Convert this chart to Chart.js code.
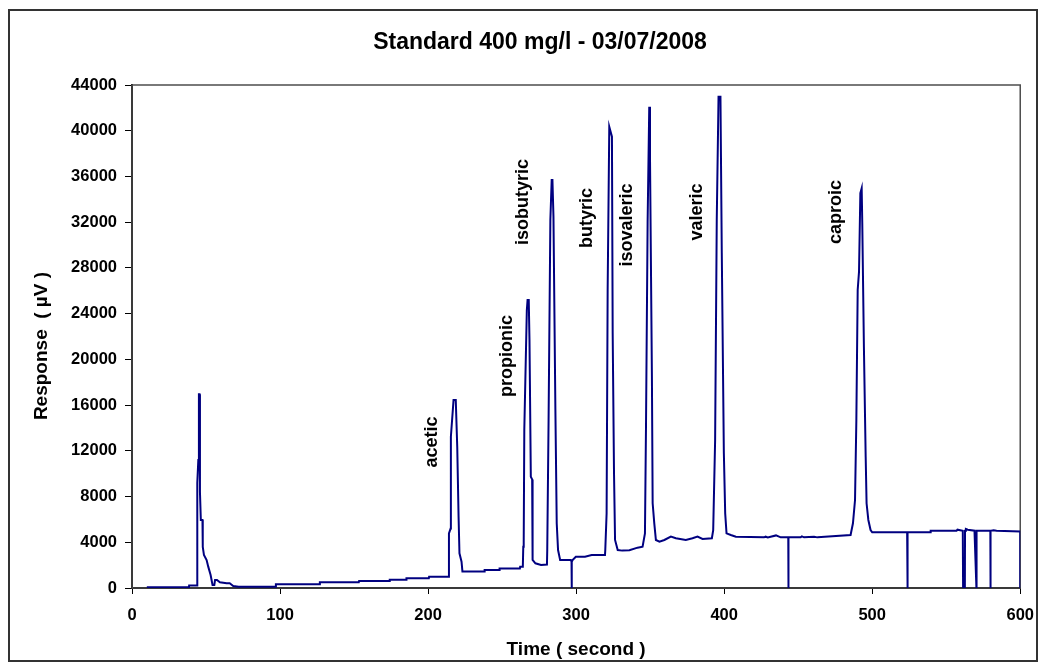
<!DOCTYPE html>
<html>
<head>
<meta charset="utf-8">
<script src="https://cdn.jsdelivr.net/npm/chart.js@4.4.1/dist/chart.umd.min.js"></script>
<style>
  html, body { margin: 0; padding: 0; background: #ffffff; }
  #wrap { width: 1046px; height: 667px; position: relative; }
</style>
</head>
<body>
<div id="wrap"><canvas id="chart" width="1046" height="667"></canvas></div>
<script>
// ---------------- DATA ----------------
const chartTitle = "Standard 400 mg/l - 03/07/2008";
const xAxisTitle = "Time ( second )";
const yAxisTitle = "Response  ( µV )";

const xTickValues = [0, 100, 200, 300, 400, 500, 600];
const yTickValues = [0, 4000, 8000, 12000, 16000, 20000, 24000, 28000, 32000, 36000, 40000, 44000];

// chromatogram trace: time (s) and detector response (µV)
const times = [
  10, 38.5, 38.6, 44.0, 44.1, 44.8, 45.2, 45.6, 45.9, 46.5, 47.6, 47.8, 48.6, 50.4, 51.5, 53.1, 54.4, 55.6, 56.1, 57.4,
  59.4, 63.9, 66, 68.4, 72, 97.0, 97.2, 126.7, 126.9, 153.2, 153.4, 173.9, 174.1, 185.2, 185.4, 200.5, 200.7, 213.9, 214.1, 215.2,
  215.4, 217.2, 218.7, 219.7, 220.6, 221.2, 222.6, 223.2, 238.0, 238.2, 248.1, 248.3, 262.0, 262.2, 264.0, 264.3, 264.6, 265.0, 266.7, 267.2,
  268.0, 268.5, 269.4, 270.3, 270.6, 272.5, 276.3, 280.3, 280.5, 281.4, 282.6, 283.5, 284.0, 284.7, 286.0, 286.9, 287.8, 289.2, 296.4, 296.9,
  297.0, 297.1, 297.6, 299.8, 306.0, 310.5, 319.5, 319.7, 320.6, 321.3, 322.4, 324.2, 324.7, 325.6, 326.3, 328.1, 331.2, 336.0, 341.5, 344.9,
  346.5, 347.2, 348.3, 349.4, 349.9, 351.2, 351.7, 352.8, 353.9, 356.3, 359.6, 364.0, 367.4, 374.1, 378.6, 382.0, 385.4, 391.7, 392.6, 393.9,
  395.0, 396.2, 397.5, 398.4, 399.8, 400.7, 401.6, 404.5, 407.9, 427.0, 428.0, 429.5, 435.0, 438.2, 443.3, 443.4, 443.5, 451.7, 452.5, 454.0,
  460.7, 463.0, 485.4, 487.0, 488.4, 489.3, 490.2, 491.1, 492.0, 492.9, 493.3, 494.4, 495.6, 496.2, 497.4, 498.9, 500.0, 523.6, 523.8, 524.0,
  539.3, 539.5, 557.0, 557.6, 561.2, 561.4, 562.6, 562.7, 563.3, 564.6, 569.1, 570.4, 570.5, 579.8, 579.9, 580.0, 582.0, 584.0, 600.0, 600.0
];
const responses = [
  60, 60, 220, 220, 9200, 11200, 16950, 16950, 8400, 5950, 5950, 3600, 2900, 2450, 1870, 1140, 260, 260, 700, 700,
  500, 410, 410, 175, 115, 115, 320, 320, 500, 500, 610, 610, 720, 720, 850, 850, 990, 990, 4780, 5200,
  13230, 16440, 16440, 12360, 6240, 3030, 2300, 1450, 1450, 1570, 1570, 1700, 1700, 1860, 1860, 3610, 4000, 13820, 24300, 25190,
  25190, 21690, 9740, 9500, 2450, 2160, 2010, 2050, 3320, 14700, 32190, 35690, 35690, 32480, 15570, 5660, 3320, 2450, 2450, 2300,
  0, 2300, 2450, 2740, 2740, 2890, 2890, 3320, 6530, 26070, 40350, 39480, 22280, 10030, 4200, 3320, 3270, 3300, 3530, 3610,
  4780, 14110, 32000, 42100, 37730, 18480, 7410, 5660, 4200, 4050, 4200, 4490, 4350, 4200, 4350, 4490, 4290, 4350, 5070, 12950,
  32190, 42970, 42970, 29280, 11780, 6530, 4780, 4640, 4490, 4430, 4490, 4430, 4600, 4430, 4430, 0, 4430, 4430, 4520, 4430,
  4490, 4430, 4640, 5660, 7700, 14700, 26070, 27670, 34530, 34960, 31900, 21110, 11490, 7410, 5950, 5070, 4870, 4870, 0, 4870,
  4870, 5010, 5010, 5100, 5010, 0, 0, 5010, 5160, 5100, 5010, 0, 5010, 5010, 0, 5010, 5060, 5010, 4950, 0
];

// peak annotations (name, time, response of label centre)
const peakNames = ["acetic", "propionic", "isobutyric", "butyric", "isovaleric", "valeric", "caproic"];
const peakLabelTimes = [202.4, 253.6, 264.4, 307.6, 334.6, 381.8, 475.4];
const peakLabelResponses = [12770, 20290, 33760, 32360, 31750, 32890, 32890];

// ---------------- CHART ----------------
const FONT = '"Liberation Sans", Arial, Helvetica, sans-serif';
Chart.defaults.font.family = FONT;
Chart.defaults.color = '#000000';

const points = times.map((t, i) => ({ x: t, y: responses[i] }));

const decor = {
  id: 'decor',
  beforeDraw(chart) {
    const ctx = chart.ctx;
    ctx.save();
    ctx.fillStyle = '#ffffff';
    ctx.fillRect(0, 0, chart.width, chart.height);
    ctx.restore();
  },
  beforeDatasetsDraw(chart) {
    const { ctx, chartArea: a } = chart;
    ctx.save();
    ctx.strokeStyle = '#4d4d4d';
    ctx.lineWidth = 1.5;
    ctx.strokeRect(a.left, a.top, a.right - a.left, a.bottom - a.top);
    ctx.restore();
  },
  afterDatasetsDraw(chart) {
    const { ctx } = chart;
    const xs = chart.scales.x, ys = chart.scales.y;
    ctx.save();
    ctx.fillStyle = '#000000';
    ctx.font = 'bold 18px ' + FONT;
    ctx.textAlign = 'center';
    ctx.textBaseline = 'middle';
    peakNames.forEach((name, i) => {
      const px = xs.getPixelForValue(peakLabelTimes[i]);
      const py = ys.getPixelForValue(peakLabelResponses[i]);
      ctx.save();
      ctx.translate(px, py);
      ctx.rotate(-Math.PI / 2);
      ctx.fillText(name, 0, 0);
      ctx.restore();
    });
    ctx.restore();
  },
  afterDraw(chart) {
    const ctx = chart.ctx;
    ctx.save();
    // chart title
    ctx.fillStyle = '#000000';
    ctx.textAlign = 'center';
    ctx.textBaseline = 'middle';
    ctx.font = 'bold 23px ' + FONT;
    ctx.fillText(chartTitle, 540, 43);
    // y axis title
    ctx.save();
    ctx.font = 'bold 19px ' + FONT;
    ctx.translate(42, 346);
    ctx.rotate(-Math.PI / 2);
    ctx.fillText(yAxisTitle, 0, 0);
    ctx.restore();
    // outer frame
    ctx.strokeStyle = '#333333';
    ctx.lineWidth = 2;
    ctx.strokeRect(9, 10, 1028, 651);
    ctx.restore();
  }
};

new Chart(document.getElementById('chart'), {
  type: 'line',
  data: {
    datasets: [{
      data: points,
      borderColor: '#000080',
      borderWidth: 2,
      pointRadius: 0,
      tension: 0,
      fill: false
    }]
  },
  options: {
    responsive: false,
    animation: false,
    parsing: { xAxisKey: 'x', yAxisKey: 'y' },
    layout: { padding: { left: 0, right: 24.5, top: 85, bottom: 0 } },
    plugins: {
      legend: { display: false },
      tooltip: { enabled: false },
      title: { display: false }
    },
    scales: {
      x: {
        type: 'linear',
        min: 0,
        max: 600,
        afterBuildTicks: (s) => { s.ticks = xTickValues.map(v => ({ value: v })); },
        afterFit: (s) => { s.height = 79; },
        ticks: {
          color: '#000000',
          font: { size: 16.5, weight: 'bold', family: FONT },
          padding: 12,
          maxRotation: 0,
          callback: (v) => String(v)
        },
        grid: { drawOnChartArea: false, drawTicks: true, tickLength: 6, color: '#000000', tickColor: '#000000' },
        border: { display: true, color: '#000000', width: 2 },
        title: {
          display: true,
          text: xAxisTitle,
          color: '#000000',
          font: { size: 19, weight: 'bold', family: FONT },
          padding: { top: 4, bottom: 6 }
        }
      },
      y: {
        type: 'linear',
        min: 0,
        max: 44000,
        afterBuildTicks: (s) => { s.ticks = yTickValues.map(v => ({ value: v })); },
        afterFit: (s) => { s.width = 132; },
        ticks: {
          color: '#000000',
          font: { size: 16.5, weight: 'bold', family: FONT },
          padding: 8,
          callback: (v) => String(v)
        },
        grid: { drawOnChartArea: false, drawTicks: true, tickLength: 7, color: '#000000', tickColor: '#000000' },
        border: { display: true, color: '#000000', width: 2 },
        title: { display: false }
      }
    }
  },
  plugins: [decor]
});
</script>
</body>
</html>
